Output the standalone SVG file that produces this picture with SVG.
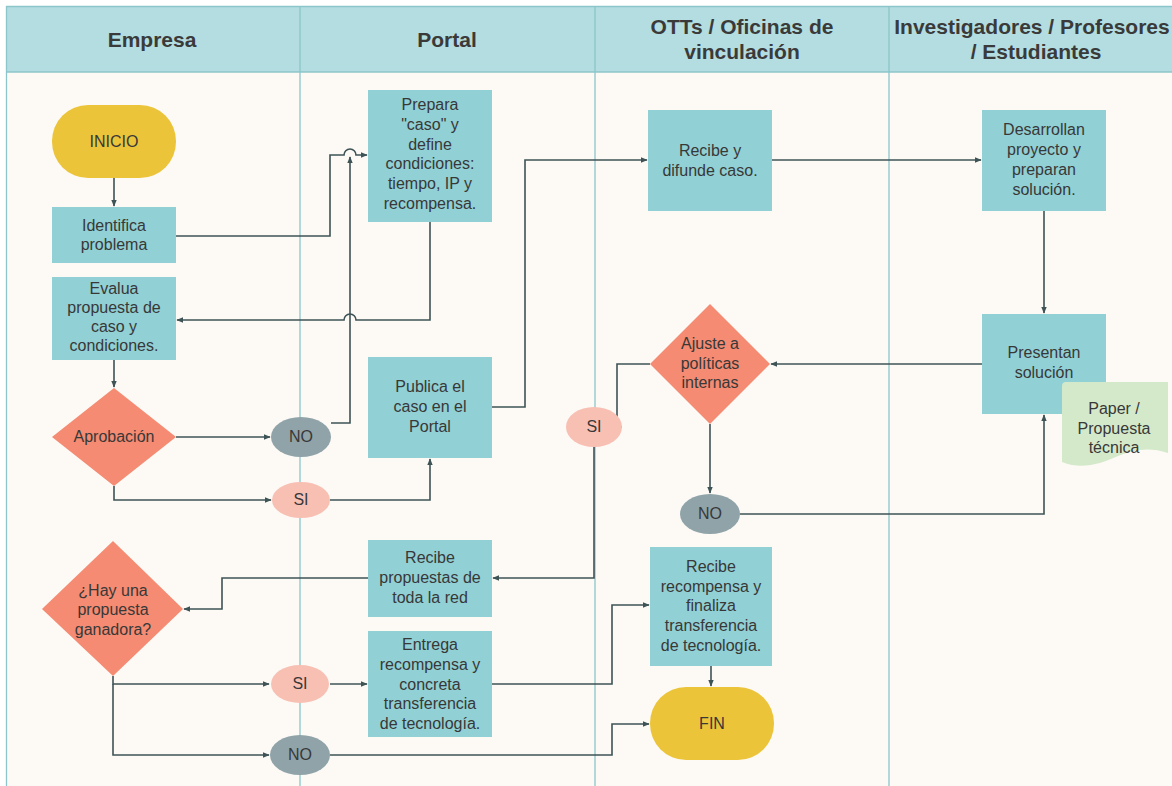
<svg xmlns="http://www.w3.org/2000/svg" width="1172" height="786" viewBox="0 0 1172 786">
<defs>
<marker id="ah" viewBox="0 0 10 10" refX="9" refY="5" markerWidth="7" markerHeight="7" orient="auto" markerUnits="userSpaceOnUse">
<path d="M0,1 L10,5 L0,9 Z" fill="#3e5356"/>
</marker>
<style>
.hdr{fill:#b3dde0}
.lane{stroke:#8cc6ca;stroke-width:1.3;fill:none}
.box{fill:#91d0d4}
.pill{fill:#ecc43a}
.dia{fill:#f48b72}
.no{fill:#8fa3a8}
.si{fill:#f8bfb3}
.doc{fill:#d4e9ca}
.t{font-family:"Liberation Sans",Arial,sans-serif;font-size:16px;fill:#383838;text-anchor:middle}
.h{font-family:"Liberation Sans",Arial,sans-serif;font-size:21px;font-weight:bold;fill:#3a3a3a;text-anchor:middle}
.c{fill:none;stroke:#3e5356;stroke-width:1.6}
.ca{fill:none;stroke:#3e5356;stroke-width:1.6;marker-end:url(#ah)}
</style>
</defs>
<rect x="0" y="0" width="1172" height="786" fill="#ffffff"/>
<rect x="6" y="6" width="1166" height="780" fill="#fdfaf6"/>
<g id="header">
<rect class="hdr" x="6" y="6" width="1166" height="66"/>
<text class="h" x="152" y="47">Empresa</text>
<text class="h" x="447" y="47">Portal</text>
<text class="h" x="742" y="34">OTTs / Oficinas de</text>
<text class="h" x="742" y="59">vinculación</text>
<text class="h" x="1032" y="34">Investigadores / Profesores</text>
<text class="h" x="1036" y="59">/ Estudiantes</text>
</g>
<g id="lanes">
<line class="lane" x1="6.5" y1="6" x2="6.5" y2="786"/>
<line class="lane" x1="6" y1="6.5" x2="1172" y2="6.5"/>
<line class="lane" x1="6" y1="72" x2="1172" y2="72"/>
<line class="lane" x1="300" y1="6" x2="300" y2="786"/>
<line class="lane" x1="595" y1="6" x2="595" y2="786"/>
<line class="lane" x1="889" y1="6" x2="889" y2="786"/>
</g>
<g id="connectors">
<path class="ca" d="M114,178 V206"/>
<path class="ca" d="M176,236 H330 V155 H344 A6,6 0 0 1 356,155 H367"/>
<path class="ca" d="M331,423 H350 V157"/>
<path class="ca" d="M430,222 V320 H356 A6,6 0 0 0 344,320 H177"/>
<path class="ca" d="M114,360 V387"/>
<path class="ca" d="M176,437 H270"/>
<path class="ca" d="M114,486 V500 H271"/>
<path class="ca" d="M330,500 H430 V459"/>
<path class="ca" d="M492,407 H525 V160 H647"/>
<path class="ca" d="M772,160 H981"/>
<path class="ca" d="M1044,211 V313"/>
<path class="ca" d="M982,364 H771"/>
<path class="c" d="M650,364 H617 V427 H622"/>
<path class="ca" d="M710,424 V493"/>
<path class="ca" d="M740,514 H1044 V415"/>
<path class="ca" d="M594,447 V578 H493"/>
<path class="ca" d="M368,578 H222 V609 H184"/>
<path class="ca" d="M113,676 V684 H269"/>
<path class="ca" d="M113,684 V755 H269"/>
<path class="ca" d="M330,684 H367"/>
<path class="ca" d="M492,684 H612 V605 H649"/>
<path class="ca" d="M330,755 H612 V724 H649"/>
<path class="ca" d="M711,666 V686"/>
</g>
<g id="inicio">
<rect class="pill" x="52" y="105" width="124" height="73" rx="36"/>
<text class="t" x="114" y="147">INICIO</text>
</g>
<g id="identifica">
<rect class="box" x="52" y="207" width="124" height="56"/>
<text class="t" x="114" y="231">Identifica</text>
<text class="t" x="114" y="250">problema</text>
</g>
<g id="evalua">
<rect class="box" x="52" y="277" width="124" height="83"/>
<text class="t" x="114" y="294">Evalua</text>
<text class="t" x="114" y="313">propuesta de</text>
<text class="t" x="114" y="332">caso y</text>
<text class="t" x="114" y="351">condiciones.</text>
</g>
<g id="aprobacion">
<polygon class="dia" points="114,388 176,437 114,486 52,437"/>
<text class="t" x="114" y="442">Aprobación</text>
</g>
<g id="no1">
<ellipse class="no" cx="301" cy="437" rx="30" ry="20"/>
<text class="t" x="301" y="442">NO</text>
</g>
<g id="si1">
<ellipse class="si" cx="301" cy="500" rx="29" ry="18"/>
<text class="t" x="301" y="505">SI</text>
</g>
<g id="prepara">
<rect class="box" x="368" y="90" width="124" height="132"/>
<text class="t" x="430" y="110">Prepara</text>
<text class="t" x="430" y="130">"caso" y</text>
<text class="t" x="430" y="150">define</text>
<text class="t" x="430" y="169">condiciones:</text>
<text class="t" x="430" y="189">tiempo, IP y</text>
<text class="t" x="430" y="209">recompensa.</text>
</g>
<g id="publica">
<rect class="box" x="368" y="357" width="124" height="101"/>
<text class="t" x="430" y="392">Publica el</text>
<text class="t" x="430" y="412">caso en el</text>
<text class="t" x="430" y="432">Portal</text>
</g>
<g id="recibe_difunde">
<rect class="box" x="648" y="110" width="124" height="101"/>
<text class="t" x="710" y="156">Recibe y</text>
<text class="t" x="710" y="176">difunde caso.</text>
</g>
<g id="desarrollan">
<rect class="box" x="982" y="110" width="124" height="101"/>
<text class="t" x="1044" y="135">Desarrollan</text>
<text class="t" x="1044" y="155">proyecto y</text>
<text class="t" x="1044" y="175">preparan</text>
<text class="t" x="1044" y="195">solución.</text>
</g>
<g id="presentan">
<rect class="box" x="982" y="314" width="124" height="100"/>
<text class="t" x="1044" y="358">Presentan</text>
<text class="t" x="1044" y="378">solución</text>
</g>
<g id="paper">
<path class="doc" d="M1062,386 Q1062,382 1066,382 L1168,382 L1168,453 C1150,447 1135,449 1118,456 C1100,464 1082,470 1062,462 Z"/>
<text class="t" x="1114" y="414">Paper /</text>
<text class="t" x="1114" y="434">Propuesta</text>
<text class="t" x="1114" y="453">técnica</text>
</g>
<g id="ajuste">
<polygon class="dia" points="710,304 770,364 710,424 650,364"/>
<text class="t" x="710" y="349">Ajuste a</text>
<text class="t" x="710" y="369">políticas</text>
<text class="t" x="710" y="388">internas</text>
</g>
<g id="si2">
<ellipse class="si" cx="594" cy="427" rx="28" ry="20"/>
<text class="t" x="594" y="432">SI</text>
</g>
<g id="no2">
<ellipse class="no" cx="710" cy="514" rx="30" ry="20"/>
<text class="t" x="710" y="519">NO</text>
</g>
<g id="recibe_propuestas">
<rect class="box" x="368" y="540" width="124" height="77"/>
<text class="t" x="430" y="563">Recibe</text>
<text class="t" x="430" y="583">propuestas de</text>
<text class="t" x="430" y="603">toda la red</text>
</g>
<g id="ganadora">
<polygon class="dia" points="113,541 183,609 113,676 42,609"/>
<text class="t" x="113" y="596">¿Hay una</text>
<text class="t" x="113" y="615">propuesta</text>
<text class="t" x="113" y="635">ganadora?</text>
</g>
<g id="si3">
<ellipse class="si" cx="300" cy="684" rx="29" ry="19"/>
<text class="t" x="300" y="689">SI</text>
</g>
<g id="no3">
<ellipse class="no" cx="300" cy="755" rx="30" ry="20"/>
<text class="t" x="300" y="760">NO</text>
</g>
<g id="entrega">
<rect class="box" x="368" y="631" width="124" height="106"/>
<text class="t" x="430" y="650">Entrega</text>
<text class="t" x="430" y="670">recompensa y</text>
<text class="t" x="430" y="690">concreta</text>
<text class="t" x="430" y="709">transferencia</text>
<text class="t" x="430" y="729">de tecnología.</text>
</g>
<g id="recibe_recompensa">
<rect class="box" x="650" y="547" width="122" height="119"/>
<text class="t" x="711" y="572">Recibe</text>
<text class="t" x="711" y="592">recompensa y</text>
<text class="t" x="711" y="611">finaliza</text>
<text class="t" x="711" y="631">transferencia</text>
<text class="t" x="711" y="651">de tecnología.</text>
</g>
<g id="fin">
<rect class="pill" x="650" y="687" width="124" height="73" rx="36"/>
<text class="t" x="712" y="729">FIN</text>
</g>
</svg>
